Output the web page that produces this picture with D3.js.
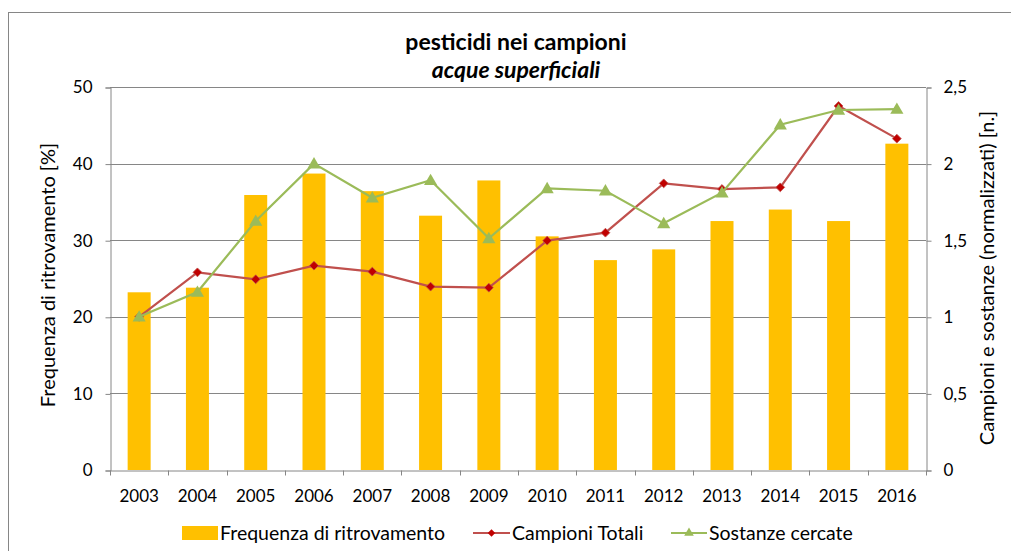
<!DOCTYPE html>
<html>
<head>
<meta charset="utf-8">
<script src="https://cdn.jsdelivr.net/npm/d3@7"></script>
<style>
  body { margin: 0; background: #fff; }
  text { font-family: Lato, "Open Sans", sans-serif; fill: #000; }
</style>
</head>
<body>
<div id="chart"></div>
<script>
// Data
var years = ['2003','2004','2005','2006','2007','2008','2009','2010','2011','2012','2013','2014','2015','2016'];
var frequenza = [23.2, 23.8, 35.9, 38.7, 36.4, 33.2, 37.8, 30.5, 27.4, 28.8, 32.5, 34.0, 32.5, 42.6];
var campioni = [1.0, 1.29, 1.245, 1.334, 1.295, 1.197, 1.19, 1.497, 1.549, 1.871, 1.834, 1.845, 2.376, 2.163];
var sostanze = [1.0, 1.162, 1.625, 2.0, 1.777, 1.891, 1.512, 1.838, 1.823, 1.61, 1.81, 2.254, 2.35, 2.356];
var leftTicks = [0, 10, 20, 30, 40, 50];
var rightTicks = [0, 0.5, 1, 1.5, 2, 2.5];

var width = 1011,
    height = 551,
    margin = { top: 87, right: 85, bottom: 81, left: 110 };

var gray = '#868686';
var formatIt = function(d) { return String(d).replace('.', ','); };

var svg = d3.select('#chart').append('svg')
    .attr('width', width)
    .attr('height', height);

// Chart frame
svg.append('rect')
    .attr('x', 8.5).attr('y', 12.5)
    .attr('width', 1100).attr('height', 600)
    .attr('fill', 'none')
    .attr('stroke', gray)
    .attr('stroke-width', 1);

var xStep = d3.scaleBand().domain(years).range([margin.left, width - margin.right]);

var yLeft = d3.scaleLinear().domain([0, 50]).range([height - margin.bottom, margin.top]);
var yRight = d3.scaleLinear().domain([0, 2.5]).range([height - margin.bottom, margin.top]);

var cx = function(i) { return xStep(years[i]) + xStep.bandwidth() / 2; };

// Grid
svg.append('g')
    .selectAll('line')
    .data(leftTicks.slice(1))
  .enter().append('line')
    .attr('x1', margin.left).attr('x2', width - margin.right)
    .attr('y1', function(d) { return Math.round(yLeft(d)) + 0.5; })
    .attr('y2', function(d) { return Math.round(yLeft(d)) + 0.5; })
    .attr('stroke', gray);

// Bars
svg.append('g')
    .selectAll('rect')
    .data(frequenza)
  .enter().append('rect')
    .attr('x', function(d, i) { return cx(i) - 11.5; })
    .attr('width', 23)
    .attr('y', function(d) { return yLeft(d); })
    .attr('height', function(d) { return yLeft(0) - yLeft(d); })
    .attr('fill', '#FFC000');

// Axes
var axisLeft = svg.append('g')
    .attr('transform', 'translate(' + (margin.left + 0.5) + ',0.5)')
    .call(d3.axisLeft(yLeft).tickValues(leftTicks).tickSize(5).tickPadding(13));

var axisRight = svg.append('g')
    .attr('transform', 'translate(' + (width - margin.right + 0.5) + ',0.5)')
    .call(d3.axisRight(yRight).tickValues(rightTicks).tickSize(5).tickPadding(12).tickFormat(formatIt));

var axisBottom = svg.append('g')
    .attr('transform', 'translate(0,' + (height - margin.bottom + 0.5) + ')')
    .call(d3.axisBottom(xStep).tickSize(0).tickPadding(19));

// Category boundary ticks
axisBottom.selectAll('.boundary')
    .data(years.concat(['end']))
  .enter().append('line')
    .attr('x1', function(d, i) { return Math.round(margin.left + i * xStep.step()) + 0.5; })
    .attr('x2', function(d, i) { return Math.round(margin.left + i * xStep.step()) + 0.5; })
    .attr('y1', 0).attr('y2', 5)
    .attr('stroke', gray);

[axisLeft, axisRight, axisBottom].forEach(function(g) {
  g.selectAll('.domain').attr('stroke', gray);
  g.selectAll('.tick line').attr('stroke', gray);
  g.selectAll('text').style('font-size', '17px').style('font-family', 'Lato, "Open Sans", sans-serif').attr('fill', '#000');
});

// Lines
var line = function(scale) {
  return d3.line()
    .x(function(d, i) { return cx(i); })
    .y(function(d) { return scale(d); });
};

svg.append('path')
    .datum(campioni)
    .attr('d', line(yRight))
    .attr('fill', 'none')
    .attr('stroke', '#C0504D')
    .attr('stroke-width', 2.2);

svg.append('g')
    .selectAll('path')
    .data(campioni)
  .enter().append('path')
    .attr('d', d3.symbol().type(d3.symbolDiamond2).size(50))
    .attr('transform', function(d, i) { return 'translate(' + cx(i) + ',' + yRight(d) + ')'; })
    .attr('fill', '#C00000')
    .attr('stroke', '#C0504D')
    .attr('stroke-width', 0.8);

svg.append('path')
    .datum(sostanze)
    .attr('d', line(yRight))
    .attr('fill', 'none')
    .attr('stroke', '#9BBB59')
    .attr('stroke-width', 2.2);

svg.append('g')
    .selectAll('path')
    .data(sostanze)
  .enter().append('path')
    .attr('d', d3.symbol().type(d3.symbolTriangle).size(75))
    .attr('transform', function(d, i) { return 'translate(' + cx(i) + ',' + (yRight(d) + 1) + ')'; })
    .attr('fill', '#9BBB59');

// Titles
svg.append('text')
    .attr('x', 516).attr('y', 50)
    .attr('text-anchor', 'middle')
    .style('font-size', '23px')
    .style('font-weight', 'bold')
    .text('pesticidi nei campioni');

svg.append('text')
    .attr('x', 516).attr('y', 78)
    .attr('text-anchor', 'middle')
    .style('font-size', '23px')
    .style('font-weight', 'bold')
    .style('font-style', 'italic')
    .text('acque superficiali');

svg.append('text')
    .attr('transform', 'translate(55,275) rotate(-90)')
    .attr('text-anchor', 'middle')
    .style('font-size', '20px')
    .text('Frequenza di ritrovamento [%]');

svg.append('text')
    .attr('transform', 'translate(994,278) rotate(-90)')
    .attr('text-anchor', 'middle')
    .style('font-size', '20px')
    .text('Campioni e sostanze (normalizzati) [n.]');

// Legend
var legend = svg.append('g');
var ly = 533;

legend.append('rect')
    .attr('x', 182).attr('y', ly - 7)
    .attr('width', 36).attr('height', 14)
    .attr('fill', '#FFC000');
legend.append('text')
    .attr('x', 220).attr('y', ly + 7)
    .style('font-size', '19.5px')
    .text('Frequenza di ritrovamento');

legend.append('line')
    .attr('x1', 473).attr('x2', 510)
    .attr('y1', ly).attr('y2', ly)
    .attr('stroke', '#C0504D').attr('stroke-width', 2.2);
legend.append('path')
    .attr('d', d3.symbol().type(d3.symbolDiamond2).size(35))
    .attr('transform', 'translate(491.5,' + ly + ')')
    .attr('fill', '#C00000');
legend.append('text')
    .attr('x', 512).attr('y', ly + 7)
    .style('font-size', '19.5px')
    .text('Campioni Totali');

legend.append('line')
    .attr('x1', 671).attr('x2', 707)
    .attr('y1', ly).attr('y2', ly)
    .attr('stroke', '#9BBB59').attr('stroke-width', 2.2);
legend.append('path')
    .attr('d', d3.symbol().type(d3.symbolTriangle).size(40))
    .attr('transform', 'translate(689,' + ly + ')')
    .attr('fill', '#9BBB59');
legend.append('text')
    .attr('x', 709).attr('y', ly + 7)
    .style('font-size', '19.5px')
    .text('Sostanze cercate');
</script>
</body>
</html>
